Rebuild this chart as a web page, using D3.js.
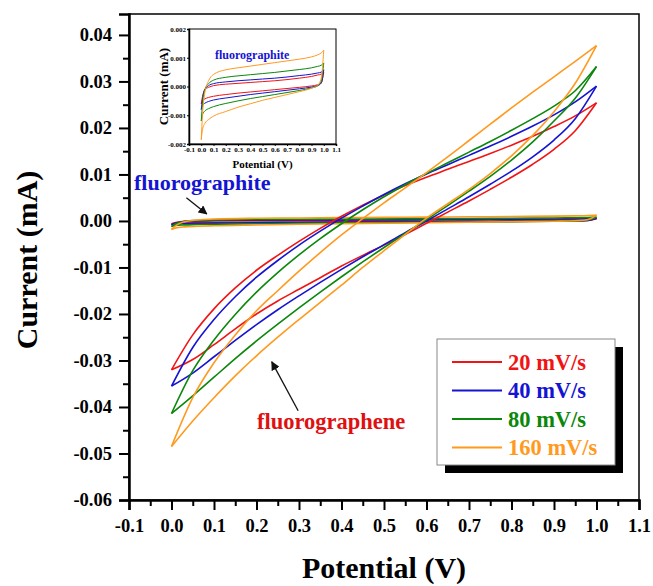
<!DOCTYPE html>
<html>
<head>
<meta charset="utf-8">
<script src="https://cdn.jsdelivr.net/npm/d3@7"></script>
<style>
  body { margin: 0; background: #fff; }
  svg text { font-family: "Liberation Serif", "DejaVu Serif", serif; font-weight: bold; }
</style>
</head>
<body>
<div id="chart"></div>
<script>
// Potential grid for the fluorographene loops (V)
const potential = [0.00, 0.05, 0.10, 0.15, 0.20, 0.25, 0.30, 0.35, 0.40, 0.45, 0.50,
                   0.55, 0.60, 0.65, 0.70, 0.75, 0.80, 0.85, 0.90, 0.95, 1.00];

// Fluorographene current (mA), forward (upper) and reverse (lower) branches
const fgForward20  = [-0.0320, -0.0245, -0.0189, -0.0144, -0.0106, -0.0074, -0.0044, -0.0016, 0.0010, 0.0034, 0.0056, 0.0076, 0.0094, 0.0111, 0.0128, 0.0145, 0.0163, 0.0182, 0.0203, 0.0226, 0.0254];
const fgReverse20  = [-0.0320, -0.0298, -0.0266, -0.0232, -0.0200, -0.0172, -0.0147, -0.0122, -0.0097, -0.0074, -0.0052, -0.0029, -0.0005, 0.0019, 0.0043, 0.0068, 0.0094, 0.0122, 0.0154, 0.0194, 0.0254];
const fgForward40  = [-0.0355, -0.0272, -0.0212, -0.0163, -0.0121, -0.0085, -0.0052, -0.0022, 0.0006, 0.0032, 0.0057, 0.0080, 0.0101, 0.0121, 0.0141, 0.0161, 0.0182, 0.0204, 0.0228, 0.0256, 0.0290];
const fgReverse40  = [-0.0355, -0.0327, -0.0292, -0.0257, -0.0223, -0.0191, -0.0161, -0.0132, -0.0104, -0.0077, -0.0051, -0.0025, 0.0000, 0.0026, 0.0052, 0.0079, 0.0107, 0.0138, 0.0174, 0.0220, 0.0290];
const fgForward80  = [-0.0414, -0.0322, -0.0256, -0.0201, -0.0153, -0.0111, -0.0073, -0.0038, -0.0006, 0.0024, 0.0052, 0.0078, 0.0102, 0.0125, 0.0148, 0.0171, 0.0195, 0.0220, 0.0247, 0.0280, 0.0332];
const fgReverse80  = [-0.0414, -0.0376, -0.0336, -0.0296, -0.0258, -0.0222, -0.0187, -0.0153, -0.0120, -0.0088, -0.0057, -0.0027, 0.0003, 0.0033, 0.0064, 0.0096, 0.0131, 0.0170, 0.0215, 0.0264, 0.0332];
const fgForward160 = [-0.0485, -0.0380, -0.0305, -0.0245, -0.0193, -0.0150, -0.0108, -0.0068, -0.0030, 0.0005, 0.0039, 0.0071, 0.0104, 0.0138, 0.0173, 0.0208, 0.0243, 0.0277, 0.0310, 0.0343, 0.0377];
const fgReverse160 = [-0.0485, -0.0430, -0.0380, -0.0333, -0.0290, -0.0250, -0.0212, -0.0175, -0.0138, -0.0100, -0.0064, -0.0029, 0.0006, 0.0037, 0.0068, 0.0102, 0.0140, 0.0184, 0.0235, 0.0296, 0.0377];

// Potential grid for the fluorographite loops (denser near the vertices)
const potentialFgt = [0.00, 0.01, 0.03, 0.06, 0.10, 0.20, 0.30, 0.40, 0.50, 0.60, 0.70, 0.80, 0.90, 0.95, 0.98, 1.00];

// Fluorographite current (mA)
const fgtForward20  = [-0.00060, -0.00035, -0.00010, -0.00003, 0.00003, 0.00008, 0.00011, 0.00014, 0.00017, 0.00020, 0.00024, 0.00029, 0.00035, 0.00040, 0.00043, 0.00050];
const fgtReverse20  = [-0.00060, -0.00050, -0.00043, -0.00038, -0.00034, -0.00028, -0.00023, -0.00019, -0.00015, -0.00011, -0.00007, -0.00003, 0.00002, 0.00006, 0.00013, 0.00050];
const fgtForward40  = [-0.00080, -0.00045, -0.00010, 0.00003, 0.00010, 0.00016, 0.00020, 0.00023, 0.00026, 0.00029, 0.00033, 0.00038, 0.00043, 0.00047, 0.00050, 0.00058];
const fgtReverse40  = [-0.00080, -0.00066, -0.00058, -0.00052, -0.00047, -0.00040, -0.00034, -0.00028, -0.00023, -0.00018, -0.00013, -0.00008, -0.00002, 0.00003, 0.00012, 0.00058];
const fgtForward80  = [-0.00120, -0.00060, -0.00010, 0.00010, 0.00022, 0.00032, 0.00037, 0.00041, 0.00045, 0.00049, 0.00054, 0.00059, 0.00065, 0.00070, 0.00074, 0.00082];
const fgtReverse80  = [-0.00120, -0.00098, -0.00085, -0.00077, -0.00070, -0.00059, -0.00050, -0.00042, -0.00035, -0.00028, -0.00021, -0.00014, -0.00005, 0.00002, 0.00020, 0.00082];
const fgtForward160 = [-0.00185, -0.00100, -0.00020, 0.00020, 0.00042, 0.00058, 0.00065, 0.00071, 0.00077, 0.00083, 0.00089, 0.00095, 0.00103, 0.00110, 0.00117, 0.00126];
const fgtReverse160 = [-0.00185, -0.00150, -0.00128, -0.00115, -0.00103, -0.00087, -0.00072, -0.00060, -0.00048, -0.00038, -0.00028, -0.00018, -0.00006, 0.00004, 0.00030, 0.00126];

// Scan rates and colours
const scanRates = ["20 mV/s", "40 mV/s", "80 mV/s", "160 mV/s"];
const colors = ["#f01414", "#1414d2", "#0b870b", "#ff9a1f"];

// Tick labels
const xTicks = [-0.1, 0.0, 0.1, 0.2, 0.3, 0.4, 0.5, 0.6, 0.7, 0.8, 0.9, 1.0, 1.1];
const yTicks = [0.04, 0.03, 0.02, 0.01, 0.00, -0.01, -0.02, -0.03, -0.04, -0.05, -0.06];
const insetYTicks = [0.002, 0.001, 0.000, -0.001, -0.002];

const fgSeries = [
    [fgForward20, fgReverse20],
    [fgForward40, fgReverse40],
    [fgForward80, fgReverse80],
    [fgForward160, fgReverse160]
];
const fgtSeries = [
    [fgtForward20, fgtReverse20],
    [fgtForward40, fgtReverse40],
    [fgtForward80, fgtReverse80],
    [fgtForward160, fgtReverse160]
];

const serif = '"Liberation Serif", "DejaVu Serif", serif';
const width = 653;
const height = 586;
const plot = { left: 129, right: 639, top: 14, bottom: 500 };

const svg = d3.select("#chart")
    .append("svg")
    .attr("width", width)
    .attr("height", height);

svg.append("rect").attr("width", width).attr("height", height).attr("fill", "#fff");

// Scales
const x = d3.scaleLinear().domain([-0.1, 1.1]).range([plot.left, plot.right]);
const y = d3.scaleLinear().domain([-0.06, 0.0445]).range([plot.bottom, plot.top]);

// Minor tick positions halfway between majors
const xMinor = xTicks.slice(0, -1).map(d => d + 0.05);
const yMinor = yTicks.slice(0, -1).map(d => d - 0.005);

// Frame (top and right)
svg.append("rect")
    .attr("x", plot.left).attr("y", plot.top)
    .attr("width", plot.right - plot.left).attr("height", plot.bottom - plot.top)
    .attr("fill", "none").attr("stroke", "#000").attr("stroke-width", 1.5);

// Bottom axis
const xAxis = svg.append("g")
    .attr("transform", `translate(0,${plot.bottom})`)
    .call(d3.axisBottom(x).tickValues(xTicks).tickSize(10).tickPadding(6).tickFormat(d => d.toFixed(1)));
svg.append("g")
    .attr("transform", `translate(0,${plot.bottom})`)
    .call(d3.axisBottom(x).tickValues(xMinor).tickSize(6).tickFormat(""))
    .call(g => g.select(".domain").remove());

// Left axis
const yAxis = svg.append("g")
    .attr("transform", `translate(${plot.left},0)`)
    .call(d3.axisLeft(y).tickValues(yTicks).tickSize(10).tickPadding(7).tickFormat(d => d.toFixed(2)));
svg.append("g")
    .attr("transform", `translate(${plot.left},0)`)
    .call(d3.axisLeft(y).tickValues(yMinor).tickSize(6).tickFormat(""))
    .call(g => g.select(".domain").remove());

svg.selectAll(".tick line").attr("stroke-width", 2);
svg.selectAll("g").attr("font-family", null);
[xAxis, yAxis].forEach(g => {
    g.select(".domain").attr("stroke-width", 2.5);
    g.selectAll("text")
        .attr("font-family", serif)
        .attr("font-weight", "bold")
        .attr("font-size", "18.5px")
        .attr("fill", "#000");
});
xAxis.selectAll("text").attr("dy", "0.85em");

// Axis titles
svg.append("text")
    .attr("x", (plot.left + plot.right) / 2)
    .attr("y", 578)
    .attr("text-anchor", "middle")
    .attr("font-size", "30px")
    .text("Potential (V)");

svg.append("text")
    .attr("transform", "translate(37,260) rotate(-90)")
    .attr("text-anchor", "middle")
    .attr("font-size", "30px")
    .text("Current (mA)");

// Line generator
function branchLine(xs, xScale, yScale) {
    return d3.line()
        .x((d, i) => xScale(xs[i]))
        .y(d => yScale(d))
        .curve(d3.curveMonotoneX);
}

const plotArea = svg.append("g");

// Fluorographite loops in the main plot
fgtSeries.forEach((pair, k) => {
    pair.forEach(vals => {
        plotArea.append("path")
            .attr("d", branchLine(potentialFgt, x, y)(vals))
            .attr("fill", "none")
            .attr("stroke", colors[k])
            .attr("stroke-width", 1.6);
    });
});

// Fluorographene loops
fgSeries.forEach((pair, k) => {
    pair.forEach(vals => {
        plotArea.append("path")
            .attr("d", branchLine(potential, x, y)(vals))
            .attr("fill", "none")
            .attr("stroke", colors[k])
            .attr("stroke-width", 1.6);
    });
});

// Arrow marker
svg.append("defs").append("marker")
    .attr("id", "arrow")
    .attr("viewBox", "0 0 10 10")
    .attr("refX", 9).attr("refY", 5)
    .attr("markerWidth", 9).attr("markerHeight", 9)
    .attr("markerUnits", "userSpaceOnUse")
    .attr("orient", "auto")
    .append("path")
    .attr("d", "M0,0 L10,5 L0,10 Z")
    .attr("fill", "#111");

// Annotations
svg.append("text")
    .attr("x", 134).attr("y", 190)
    .attr("fill", "#1414d2")
    .attr("font-size", "22px")
    .text("fluorographite");
svg.append("line")
    .attr("x1", x(0.035)).attr("y1", y(0.005))
    .attr("x2", x(0.083)).attr("y2", y(0.0015))
    .attr("stroke", "#111").attr("stroke-width", 1.3)
    .attr("marker-end", "url(#arrow)");

svg.append("text")
    .attr("x", 257).attr("y", 429)
    .attr("fill", "#e01010")
    .attr("font-size", "22.5px")
    .text("fluorographene");
svg.append("line")
    .attr("x1", x(0.298)).attr("y1", y(-0.0408))
    .attr("x2", x(0.236)).attr("y2", y(-0.0303))
    .attr("stroke", "#111").attr("stroke-width", 1.3)
    .attr("marker-end", "url(#arrow)");

// Legend
const legend = { x: 437, y: 339, w: 178, h: 126 };
svg.append("rect")
    .attr("x", legend.x + 8).attr("y", legend.y + 8)
    .attr("width", legend.w).attr("height", legend.h)
    .attr("fill", "#000");
svg.append("rect")
    .attr("x", legend.x).attr("y", legend.y)
    .attr("width", legend.w).attr("height", legend.h)
    .attr("fill", "#fff").attr("stroke", "#888").attr("stroke-width", 1);

const legendRows = svg.selectAll(".legend-row")
    .data(scanRates)
    .join("g")
    .attr("class", "legend-row")
    .attr("transform", (d, i) => `translate(${legend.x + 15},${legend.y + 23 + i * 28.5})`);
legendRows.append("line")
    .attr("x1", 0).attr("x2", 50)
    .attr("stroke", (d, i) => colors[i])
    .attr("stroke-width", 2);
legendRows.append("text")
    .attr("x", 56).attr("y", 7.5)
    .attr("fill", (d, i) => colors[i])
    .attr("font-size", "22.5px")
    .text(d => d);

// Inset
const inset = { left: 189, right: 336, top: 29, bottom: 144 };
const ix = d3.scaleLinear().domain([-0.1, 1.1]).range([inset.left, inset.right]);
const iy = d3.scaleLinear().domain([-0.002, 0.002]).range([inset.bottom, inset.top]);

const insetG = svg.append("g");
insetG.append("rect")
    .attr("x", inset.left).attr("y", inset.top)
    .attr("width", inset.right - inset.left).attr("height", inset.bottom - inset.top)
    .attr("fill", "#fff").attr("stroke", "#000").attr("stroke-width", 1);

const ixAxis = insetG.append("g")
    .attr("transform", `translate(0,${inset.bottom})`)
    .call(d3.axisBottom(ix).tickValues(xTicks).tickSize(2).tickPadding(1).tickFormat(d => d.toFixed(1)));
const iyAxis = insetG.append("g")
    .attr("transform", `translate(${inset.left},0)`)
    .call(d3.axisLeft(iy).tickValues(insetYTicks).tickSize(2).tickPadding(1).tickFormat(d => d.toFixed(3)));
[ixAxis, iyAxis].forEach(g => {
    g.attr("font-family", null);
    g.select(".domain").attr("stroke-width", 1.5);
    g.selectAll("text")
        .attr("font-family", serif)
        .attr("font-weight", "bold")
        .attr("font-size", "7px")
        .attr("fill", "#000");
});

insetG.append("text")
    .attr("x", (inset.left + inset.right) / 2)
    .attr("y", 168)
    .attr("text-anchor", "middle")
    .attr("font-size", "11px")
    .text("Potential (V)");
insetG.append("text")
    .attr("transform", `translate(168,${(inset.top + inset.bottom) / 2}) rotate(-90)`)
    .attr("text-anchor", "middle")
    .attr("font-size", "13px")
    .text("Current (mA)");
insetG.append("text")
    .attr("x", 215).attr("y", 59)
    .attr("fill", "#1414d2")
    .attr("font-size", "12px")
    .text("fluorographite");

fgtSeries.forEach((pair, k) => {
    pair.forEach(vals => {
        insetG.append("path")
            .attr("d", branchLine(potentialFgt, ix, iy)(vals))
            .attr("fill", "none")
            .attr("stroke", colors[k])
            .attr("stroke-width", 1);
    });
});

// Explicit font on every text element
svg.selectAll("text").attr("font-family", serif).attr("font-weight", "bold");
</script>
</body>
</html>
